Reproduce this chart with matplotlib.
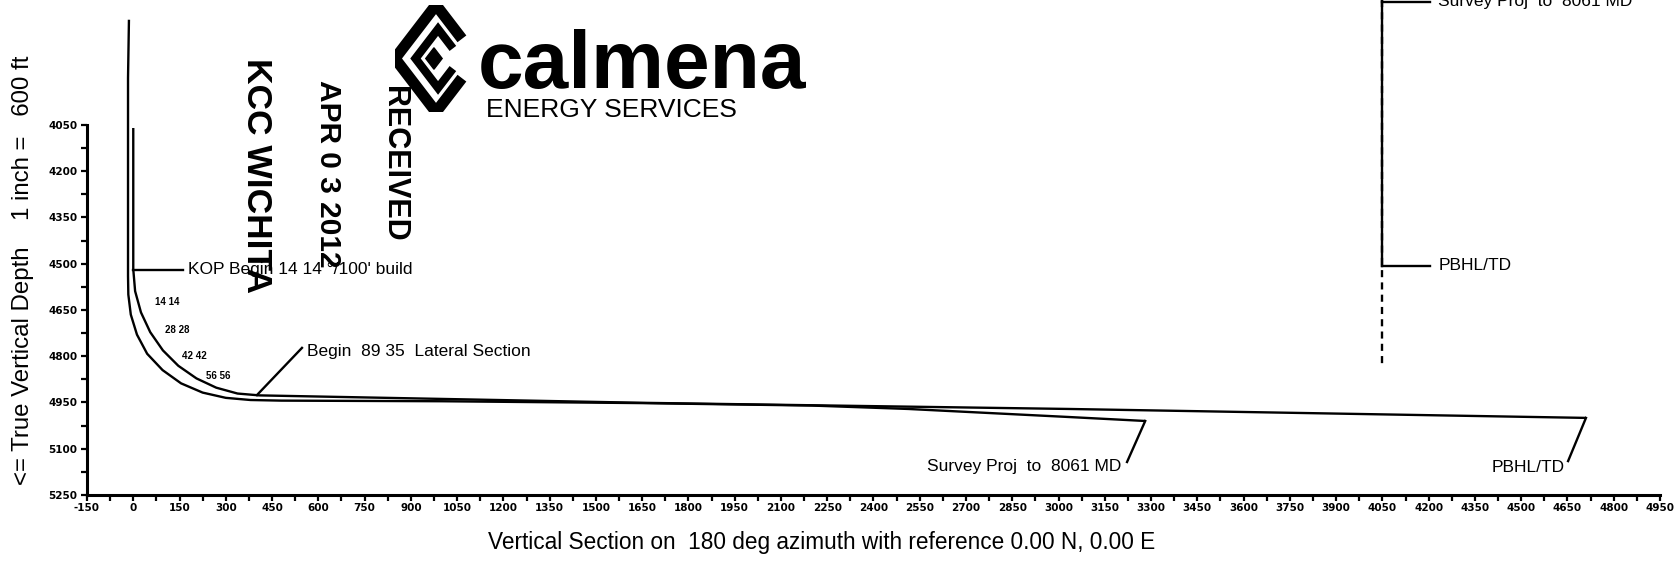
import matplotlib
matplotlib.use('Agg')
import matplotlib.pyplot as plt
from matplotlib.patches import Polygon

# ---------------- data ----------------
plan_vs = [0, 0, 6, 25, 55, 96, 146, 205, 269, 338, 409, 1646, 3031, 4710]
plan_tvd = [4060, 4518, 4589, 4658, 4722, 4781, 4831, 4872, 4902, 4921, 4927, 4951, 4971, 5000]

survey_vs = [-14, -17, -17, -16, -8, 12, 45, 95, 155, 225, 300, 380, 480, 1000, 1646, 2200, 2512, 3031, 3281]
survey_tvd = [3709, 3898, 4540, 4600, 4665, 4730, 4792, 4845, 4888, 4918, 4935, 4942, 4944, 4946, 4952, 4960, 4971, 4997, 5010]

inc_labels = ['14 14', '28 28', '42 42', '56 56']
inc_vs = [109, 142, 197, 275]
inc_tvd = [4624, 4715, 4799, 4864]

# plan-view fragment on the right
pv_x = 4050
pv_solid_tvd = [3645, 4507]
pv_dash_tvd = [3645, 4828]

x_ticks = list(range(-150, 4951, 150))
y_ticks = list(range(4050, 5251, 150))

W, H = 1675, 562
fig = plt.figure(figsize=(W / 100, H / 100), dpi=100)
fig.patch.set_facecolor('white')

ax = fig.add_axes([87 / W, 67 / H, (1660 - 87) / W, 495 / H])
ax.set_xlim(-150, 4950)
ax.set_ylim(5250, 3645)
for s in ['top', 'right']:
    ax.spines[s].set_visible(False)
ax.spines['left'].set_bounds(4050, 5250)
ax.spines['left'].set_linewidth(2.2)
ax.spines['bottom'].set_linewidth(2.2)

ax.set_xticks(x_ticks)
ax.set_xticklabels([str(t) for t in x_ticks])
ax.set_xticks(list(range(-150, 4951, 75)), minor=True)
ax.set_yticks(y_ticks)
ax.set_yticklabels([str(t) for t in y_ticks])
ax.set_yticks(list(range(4050, 5251, 75)), minor=True)
ax.tick_params(axis='both', which='both', direction='out', length=4, width=1.6, colors='black')
ax.tick_params(axis='x', labelsize=7.5, pad=2)
ax.tick_params(axis='y', labelsize=7.5, pad=3)
for lab in ax.get_xticklabels() + ax.get_yticklabels():
    lab.set_fontweight('bold')

lw = 1.7
ax.plot(plan_vs, plan_tvd, color='black', lw=lw, solid_capstyle='butt', solid_joinstyle='round')
ax.plot(survey_vs, survey_tvd, color='black', lw=lw, solid_capstyle='butt', solid_joinstyle='round')
ax.plot([pv_x, pv_x], pv_solid_tvd, color='black', lw=lw)
ax.plot([pv_x, pv_x], pv_dash_tvd, color='black', lw=lw, ls=(0, (3, 2.2)))

fam = ['Liberation Sans', 'DejaVu Sans']
for t, x, y in zip(inc_labels, inc_vs, inc_tvd):
    ax.text(x, y, t, fontsize=7, fontweight='bold', family=fam, ha='center', va='center')

# annotations
ax.plot([0, 161], [4520, 4520], color='black', lw=lw)
ax.text(178, 4520, "KOP Begin 14 14 \u00b0/100' build", fontsize=12.5, family=fam, ha='left', va='center')

ax.plot([401, 547], [4926, 4773], color='black', lw=lw)
ax.text(563, 4786, 'Begin  89 35  Lateral Section', fontsize=12.5, family=fam, ha='left', va='center')

ax.plot([3281, 3222], [5010, 5143], color='black', lw=lw)
ax.text(3203, 5156, 'Survey Proj  to  8061 MD', fontsize=12.5, family=fam, ha='right', va='center')

ax.plot([4710, 4652], [5000, 5140], color='black', lw=lw)
ax.text(4642, 5162, 'PBHL/TD', fontsize=12.5, family=fam, ha='right', va='center')

ax.plot([pv_x, 4205], [3651, 3651], color='black', lw=lw)
ax.text(4231, 3651, 'Survey Proj  to  8061 MD', fontsize=12.5, family=fam, ha='left', va='center')
ax.plot([pv_x, 4205], [4507, 4507], color='black', lw=lw)
ax.text(4231, 4507, 'PBHL/TD', fontsize=12.5, family=fam, ha='left', va='center')

# axis titles
fig.text(822 / W, 1 - 543 / H, 'Vertical Section on  180 deg azimuth with reference 0.00 N, 0.00 E',
         fontsize=16.3, family=fam, ha='center', va='center')
fig.text(23 / W, 1 - 270 / H, '<= True Vertical Depth    1 inch =   600 ft',
         fontsize=17.3, family=fam, ha='center', va='center', rotation=90)

# stamp text
fig.text(256 / W, 1 - 175 / H, 'KCC WICHITA', fontsize=25.5, family=fam, fontweight='bold',
         rotation=-90, ha='center', va='center')
fig.text(328 / W, 1 - 174 / H, 'APR 0 3 2012', fontsize=21.5, family=fam, fontweight='bold',
         rotation=-90, ha='center', va='center')
fig.text(394 / W, 1 - 164 / H, 'RECEIVED', fontsize=22, family=fam, fontweight='bold',
         rotation=-90, ha='center', va='center')

# logo
fig.text(478 / W, 1 - 88 / H, 'calmena', fontsize=59, family=fam, fontweight='bold',
         ha='left', va='baseline')
fig.text(486 / W, 1 - 110 / H, 'ENERGY SERVICES', fontsize=19, family=fam,
         ha='left', va='center')

lax = fig.add_axes([395 / W, 1 - 112 / H, 82 / W, 107 / H])
lax.set_xlim(-1, 1)
lax.set_ylim(-1, 1)
lax.axis('off')
outer = [(0.55, 0.45), (0, 1), (-1, 0), (0, -1), (0.55, -0.45)]
lax.plot([p[0] for p in outer], [p[1] for p in outer], color='black', lw=8, solid_joinstyle='miter')
inner = [(0.35, 0.25), (0.05, 0.55), (-0.5, 0), (0.05, -0.55), (0.35, -0.25)]
lax.plot([p[0] for p in inner], [p[1] for p in inner], color='black', lw=6, solid_joinstyle='miter')
lax.add_patch(Polygon([(-0.05, 0.2), (0.15, 0.0), (-0.05, -0.2), (-0.25, 0.0)], closed=True, color='black'))

fig.savefig('out.png', dpi=100, facecolor='white')
